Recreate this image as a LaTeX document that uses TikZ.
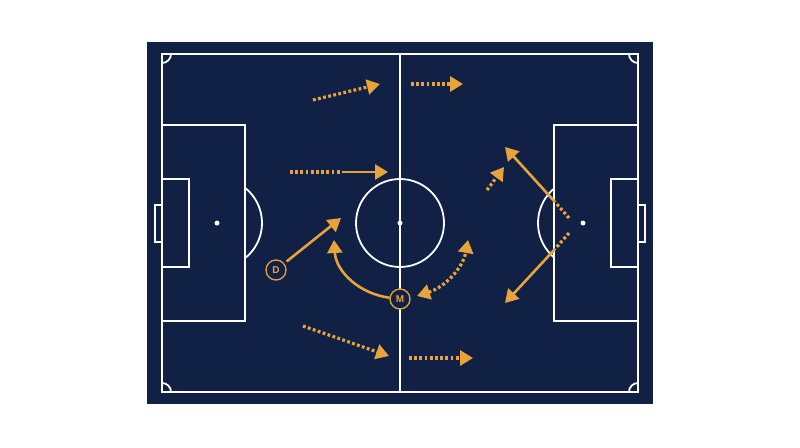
\documentclass[tikz,border=0pt]{standalone}
\usepackage{fontspec}
\newfontfamily\lblfont{Liberation Sans}
\usetikzlibrary{arrows.meta}
\definecolor{navy}{RGB}{17,33,70}
\definecolor{gold}{RGB}{232,163,58}
\begin{document}
\begin{tikzpicture}[x=1pt,y=-1pt,
  pitchline/.style={draw=white,line width=1.8pt},
  run/.style={draw=gold,line width=2.6pt,-{Triangle[length=13pt,width=15pt]}},
  dots/.style={draw=gold,line width=3.2pt,dash pattern=on 2.8pt off 2.4pt},
  dotrun/.style={dots,-{Triangle[length=13pt,width=15pt]}},
  marker/.style={circle,draw=gold,fill=navy,line width=1.3pt,minimum size=20pt,inner sep=0pt,
    text=gold,font=\lblfont\bfseries\fontsize{10}{10}\selectfont}
]
% canvas
\fill[white] (0,0) rectangle (800,447);
\useasboundingbox (0,0) rectangle (800,447);
\fill[navy] (147,42) rectangle (653,404);
% pitch
\draw[pitchline] (162,54) rectangle (638,392);
\draw[pitchline] (400,54) -- (400,392);
\draw[pitchline] (400,223) circle[radius=44pt];
\fill[white] (400,223) circle[radius=2.5pt];
% left end
\draw[pitchline] (162,125) rectangle (245,321);
\draw[pitchline] (162,179) rectangle (189,267);
\draw[pitchline] (162,205) -- (155,205) -- (155,242) -- (162,242);
\fill[white] (217,223) circle[radius=2.5pt];
% right end
\draw[pitchline] (638,125) rectangle (554,321);
\draw[pitchline] (638,179) rectangle (611,267);
\draw[pitchline] (638,205) -- (645,205) -- (645,242) -- (638,242);
\fill[white] (583,223) circle[radius=2.5pt];
% penalty arcs
\begin{scope}
  \clip (245,54) rectangle (554,392);
  \draw[pitchline] (217,223) circle[radius=45pt];
  \draw[pitchline] (583,223) circle[radius=45pt];
\end{scope}
% corner arcs
\begin{scope}
  \clip (162,54) rectangle (638,392);
  \draw[pitchline] (162,54) circle[radius=9pt];
  \draw[pitchline] (638,54) circle[radius=9pt];
  \draw[pitchline] (162,392) circle[radius=9pt];
  \draw[pitchline] (638,392) circle[radius=9pt];
\end{scope}
% markers
\node[marker] (D) at (276,270) {D};
\node[marker] (M) at (400,299) {M};
% coordinates
\coordinate (a1) at (313,100); \coordinate (a2) at (380,84);
\coordinate (b1) at (411,84);  \coordinate (b2) at (463,84);
\coordinate (c1) at (290,172); \coordinate (c2) at (342,172); \coordinate (c3) at (388,172);
\coordinate (dT) at (341,218);
\coordinate (mT) at (334,240);
\coordinate (w1) at (417,296); \coordinate (w2) at (468,240);
\coordinate (s1) at (487,190); \coordinate (s2) at (504,167);
\coordinate (r0) at (569,218); \coordinate (r1) at (555,202); \coordinate (rT) at (505,147);
\coordinate (q0) at (569,233); \coordinate (q1) at (555,249); \coordinate (qT) at (505,303);
\coordinate (e1) at (303,326); \coordinate (e2) at (389,356);
\coordinate (f1) at (409,358); \coordinate (f2) at (473,358);
% runs
\draw[dotrun] (a1) -- (a2);
\draw[dotrun] (b1) -- (b2);
\draw[dots] (c1) -- (c2);
\draw[run] (c2) -- (c3);
\draw[run,shorten <=3pt] (D) -- (dT);
\draw[run] (M) .. controls (360,294) and (336,272) .. (mT);
\draw[dots,{Triangle[length=13pt,width=15pt]}-{Triangle[length=13pt,width=15pt]}] (w1) .. controls (445,287) and (463,268) .. (w2);
\draw[dotrun] (s1) -- (s2);
\draw[dots] (r0) -- (r1);
\draw[run] (r1) -- (rT);
\draw[dots] (q0) -- (q1);
\draw[run] (q1) -- (qT);
\draw[dotrun] (e1) -- (e2);
\draw[dotrun] (f1) -- (f2);
\end{tikzpicture}
\end{document}
